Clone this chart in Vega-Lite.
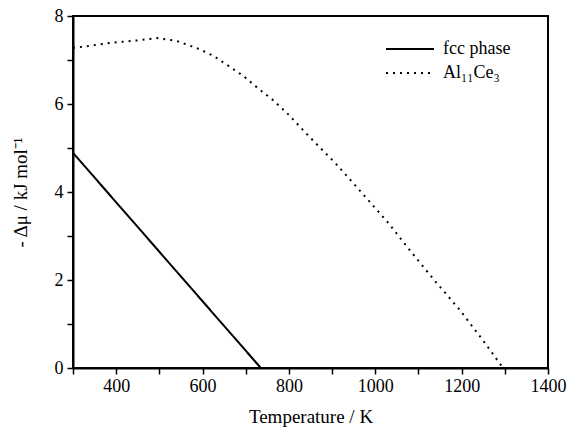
{
  "$schema": "https://vega.github.io/schema/vega-lite/v6.json",
  "autosize": {"type": "none"},
  "width": 475,
  "height": 352,
  "padding": {"left": 73, "top": 16, "right": 23, "bottom": 67},
  "config": {
    "font": "Liberation Serif",
    "view": {"stroke": "black", "strokeWidth": 2},
    "axis": {
      "domainColor": "black", "domainWidth": 2, "tickColor": "black", "tickWidth": 1.5,
      "tickSize": 6, "labelFont": "Liberation Serif", "titleFont": "Liberation Serif",
      "labelFontSize": 18, "titleFontSize": 19, "labelColor": "black", "titleColor": "black",
      "titleFontWeight": "normal", "grid": false
    }
  },
  "data": {
    "values": [
      {"T": 300, "mu": 4.89, "phase": "fcc phase"},
      {"T": 735, "mu": 0, "phase": "fcc phase"},
      {"T": 300, "mu": 7.27, "phase": "Al₁₁Ce₃"},
      {"T": 386, "mu": 7.39, "phase": "Al₁₁Ce₃"},
      {"T": 455, "mu": 7.45, "phase": "Al₁₁Ce₃"},
      {"T": 494, "mu": 7.5, "phase": "Al₁₁Ce₃"},
      {"T": 541, "mu": 7.43, "phase": "Al₁₁Ce₃"},
      {"T": 592, "mu": 7.25, "phase": "Al₁₁Ce₃"},
      {"T": 626, "mu": 7.09, "phase": "Al₁₁Ce₃"},
      {"T": 661, "mu": 6.86, "phase": "Al₁₁Ce₃"},
      {"T": 694, "mu": 6.64, "phase": "Al₁₁Ce₃"},
      {"T": 728, "mu": 6.36, "phase": "Al₁₁Ce₃"},
      {"T": 763, "mu": 6.09, "phase": "Al₁₁Ce₃"},
      {"T": 798, "mu": 5.77, "phase": "Al₁₁Ce₃"},
      {"T": 846, "mu": 5.27, "phase": "Al₁₁Ce₃"},
      {"T": 909, "mu": 4.64, "phase": "Al₁₁Ce₃"},
      {"T": 969, "mu": 3.98, "phase": "Al₁₁Ce₃"},
      {"T": 1030, "mu": 3.3, "phase": "Al₁₁Ce₃"},
      {"T": 1083, "mu": 2.64, "phase": "Al₁₁Ce₃"},
      {"T": 1138, "mu": 1.98, "phase": "Al₁₁Ce₃"},
      {"T": 1194, "mu": 1.34, "phase": "Al₁₁Ce₃"},
      {"T": 1247, "mu": 0.66, "phase": "Al₁₁Ce₃"},
      {"T": 1296, "mu": 0, "phase": "Al₁₁Ce₃"}
    ]
  },
  "mark": {"type": "line", "color": "black", "strokeWidth": 2, "clip": true},
  "encoding": {
    "x": {
      "field": "T", "type": "quantitative",
      "scale": {"domain": [300, 1400], "nice": false, "zero": false},
      "axis": {
        "title": "Temperature / K", "titlePadding": 12, "format": "d",
        "values": [300, 400, 500, 600, 700, 800, 900, 1000, 1100, 1200, 1300, 1400],
        "labelExpr": "datum.value % 200 == 0 ? datum.label : ''",
        "labelPadding": 3, "labelFlush": false, "labelOverlap": false
      }
    },
    "y": {
      "field": "mu", "type": "quantitative",
      "scale": {"domain": [0, 8], "nice": false},
      "axis": {
        "title": "- Δμ / kJ mol⁻¹", "titlePadding": 24, "format": "d",
        "values": [0, 1, 2, 3, 4, 5, 6, 7, 8],
        "labelExpr": "datum.value % 2 == 0 ? datum.label : ''",
        "labelPadding": 4, "labelFlush": false, "labelOverlap": false
      }
    },
    "strokeDash": {
      "field": "phase", "type": "nominal",
      "scale": {"domain": ["fcc phase", "Al₁₁Ce₃"], "range": [[1, 0], [2, 5]]},
      "legend": {
        "title": null, "orient": "none", "legendX": 352, "legendY": 24,
        "symbolType": "M-9.6,0H0", "symbolSize": 100, "symbolStrokeWidth": 2,
        "symbolStrokeColor": "black", "labelFontSize": 18, "labelFont": "Liberation Serif",
        "labelColor": "black", "rowPadding": 6, "labelOffset": 0
      }
    }
  }
}
